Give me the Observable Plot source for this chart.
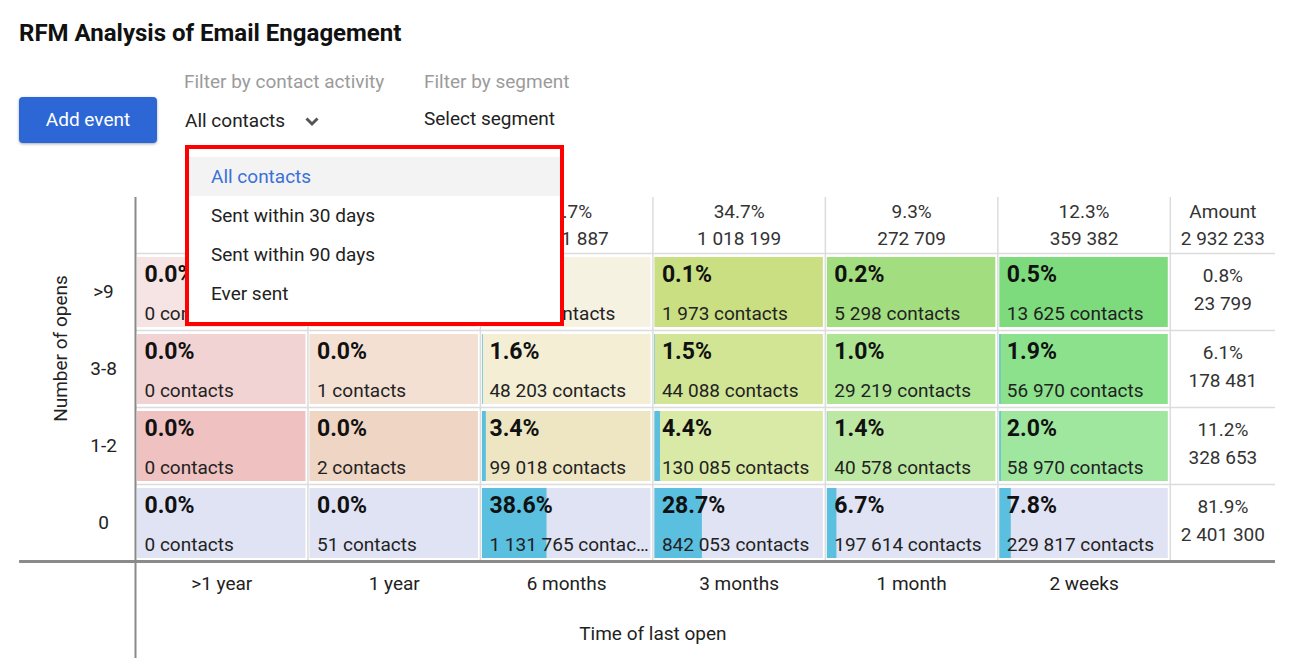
<!DOCTYPE html>
<html>
<head>
<meta charset="utf-8">
<script src="https://cdn.jsdelivr.net/npm/d3@7"></script>
<script src="https://cdn.jsdelivr.net/npm/@observablehq/plot@0.6"></script>
<style>
  body { margin: 0; background: #fff; font-family: Roboto, "Noto Sans", sans-serif; }
  #wrap { position: relative; width: 1310px; height: 664px; overflow: hidden; background: #fff; }
  .abs { position: absolute; white-space: nowrap; }
  #title { left: 19px; top: 19px; font-size: 24px; line-height: 28px; font-weight: bold; color: #111; }
  #btn { left: 19px; top: 97px; width: 138px; height: 46px; border-radius: 4px; background: #2d67d6;
         color: #fff; font-size: 19px; line-height: 46px; text-align: center; box-shadow: 0 1px 3px rgba(0,0,0,0.35); }
  .flabel { font-size: 19px; line-height: 22px; color: #9b9b9b; }
  .fval { font-size: 19px; line-height: 22px; color: #222; }
  #chart { position: absolute; left: 0; top: 190px; }
  #dropdown { left: 185px; top: 145px; width: 379px; height: 181px; box-sizing: border-box;
              border: 4px solid #ff0000; background: #fff; padding-top: 8px; z-index: 5; }
  .item { height: 39px; line-height: 39px; padding-left: 22px; font-size: 19px; color: #222; }
  .item.sel { background: #f3f3f3; color: #3a70d8; }
</style>
</head>
<body>
<div id="wrap">
  <div class="abs" id="title">RFM Analysis of Email Engagement</div>
  <div class="abs" id="btn">Add event</div>
  <div class="abs flabel" style="left:184px; top:71px;">Filter by contact activity</div>
  <div class="abs fval" style="left:185px; top:110px;">All contacts</div>
  <svg class="abs" style="left:305px; top:117px;" width="14" height="10"><polyline points="1.5,1.5 7,7 12.5,1.5" fill="none" stroke="#555" stroke-width="3"/></svg>
  <div class="abs flabel" style="left:424px; top:71px;">Filter by segment</div>
  <div class="abs fval" style="left:424px; top:108px;">Select segment</div>
  <div id="chart"></div>
  <div class="abs" id="dropdown">
    <div class="item sel">All contacts</div>
    <div class="item">Sent within 30 days</div>
    <div class="item">Sent within 90 days</div>
    <div class="item">Ever sent</div>
  </div>
</div>
<script>
// ---- data ----
const columns = [">1 year", "1 year", "6 months", "3 months", "1 month", "2 weeks"];
const rows = [">9", "3-8", "1-2", "0"];

const columnPercent = [0.0, 0.0, 43.7, 34.7, 9.3, 12.3];
const columnTotal = [0, 56, 1281887, 1018199, 272709, 359382];

const rowPercent = [0.8, 6.1, 11.2, 81.9];
const rowTotal = [23799, 178481, 328653, 2401300];
const grandTotal = 2932233;

const countsOver9 = [0, 2, 2901, 1973, 5298, 13625];
const counts3to8 = [0, 1, 48203, 44088, 29219, 56970];
const counts1to2 = [0, 2, 99018, 130085, 40578, 58970];
const counts0 = [0, 51, 1131765, 842053, 197614, 229817];

const pctOver9 = [0.0, 0.0, 0.1, 0.1, 0.2, 0.5];
const pct3to8 = [0.0, 0.0, 1.6, 1.5, 1.0, 1.9];
const pct1to2 = [0.0, 0.0, 3.4, 4.4, 1.4, 2.0];
const pct0 = [0.0, 0.0, 38.6, 28.7, 6.7, 7.8];

// ---- styles ----
const cellColors = [
  ["#f6e3e3", "#f6eae0", "#f6f2e2", "#c9df82", "#a2dd7f", "#7ddb7d"],
  ["#f2d3d3", "#f3e0d3", "#f3eed4", "#d2e595", "#aee593", "#8ce28c"],
  ["#efc1c1", "#efd5c4", "#eee6c3", "#d9e9a6", "#bde8a3", "#9fe79f"],
  ["#e0e3f4", "#e0e3f4", "#e0e3f4", "#e0e3f4", "#e0e3f4", "#e0e3f4"]
];
const barColor = "#5bbfe0";
const amountSpan = 0.61;   // width of the Amount column, in column units
const headerSpan = 0.727;  // height of the header row, in row units

const countsByRow = [countsOver9, counts3to8, counts1to2, counts0];
const pctByRow = [pctOver9, pct3to8, pct1to2, pct0];

const fmt = n => d3.format(",")(n).replace(/,/g, " ");

const cells = [];
rows.forEach((r, ri) => columns.forEach((c, ci) => {
  cells.push({row: ri, col: ci, count: countsByRow[ri][ci], pct: pctByRow[ri][ci], color: cellColors[ri][ci]});
}));
const header = columns.map((c, i) => ({col: i, pct: columnPercent[i], total: columnTotal[i]}));
const amounts = rows.map((r, i) => ({row: i, pct: rowPercent[i], total: rowTotal[i]}));

const chart = Plot.plot({
  width: 1310,
  height: 474,
  marginLeft: 135,
  marginRight: 35,
  marginTop: 7,
  marginBottom: 103,
  x: {type: "linear", domain: [0, 6 + amountSpan]},
  y: {type: "linear", domain: [4, -headerSpan]},
  color: {type: "identity"},
  style: {fontFamily: "Roboto, sans-serif", fontSize: "19px", color: "#222", background: "transparent", overflow: "visible"},
  marks: [
    Plot.rect(cells, {x1: "col", x2: d => d.col + 1, y1: "row", y2: d => d.row + 1, fill: "color",
      insetLeft: 2, insetRight: 2, insetTop: 4, insetBottom: 3}),
    Plot.rect(cells.filter(d => d.pct > 0), {x1: "col", x2: d => d.col + Math.max(d.pct / 100, 0.006),
      y1: "row", y2: d => d.row + 1, fill: barColor, insetLeft: 2, insetTop: 4, insetBottom: 3}),
    Plot.ruleX([1, 2, 3, 4, 5, 6], {x: d => d, y1: -headerSpan, y2: 4, stroke: "#dcdcdc", strokeWidth: 1.5}),
    Plot.ruleY([0, 1, 2, 3], {y: d => d, x1: 0, x2: 6 + amountSpan, stroke: "#dcdcdc", strokeWidth: 1.5}),
    Plot.ruleY([4], {y: d => d, x1: -0.672, x2: 6 + amountSpan, stroke: "#8a8a8a", strokeWidth: 3}),
    Plot.ruleX([0], {x: d => d, y1: -headerSpan, y2: 5.26, stroke: "#8a8a8a", strokeWidth: 2}),
    // header row
    Plot.text(header, {x: d => d.col + 0.5, y: () => 0, dy: -42, text: d => `${d.pct.toFixed(1)}%`, fill: "#333", fontSize: 19}),
    Plot.text(header, {x: d => d.col + 0.5, y: () => 0, dy: -15, text: d => fmt(d.total), fill: "#333", fontSize: 19}),
    Plot.text(["Amount"], {x: () => 6 + amountSpan / 2, y: () => 0, dy: -42, text: d => d, fill: "#333", fontSize: 19}),
    Plot.text([grandTotal], {x: () => 6 + amountSpan / 2, y: () => 0, dy: -15, text: d => fmt(d), fill: "#333", fontSize: 19}),
    // amount column
    Plot.text(amounts, {x: () => 6 + amountSpan / 2, y: d => d.row + 0.5, dy: -16, text: d => `${d.pct.toFixed(1)}%`, fill: "#333", fontSize: 19}),
    Plot.text(amounts, {x: () => 6 + amountSpan / 2, y: d => d.row + 0.5, dy: 12, text: d => fmt(d.total), fill: "#333", fontSize: 19}),
    // cell labels
    Plot.text(cells, {x: "col", y: "row", dx: 9, dy: 21, text: d => `${d.pct.toFixed(1)}%`, textAnchor: "start",
      fontWeight: "bold", fontSize: 23, fill: "#111"}),
    Plot.text(cells, {x: "col", y: "row", dx: 9, dy: 60, text: d => `${fmt(d.count)} contacts`, textAnchor: "start",
      fontSize: 19, fill: "#222", lineWidth: 8.95, textOverflow: "ellipsis"}),
    // axes
    Plot.axisX({ticks: [0.5, 1.5, 2.5, 3.5, 4.5, 5.5], tickFormat: v => columns[Math.round(v - 0.5)],
      tickSize: 0, tickPadding: 15, fontSize: 19, label: null}),
    Plot.axisY({ticks: [0.5, 1.5, 2.5, 3.5], tickFormat: v => rows[Math.round(v - 0.5)],
      tickSize: 0, tickPadding: 32, textAnchor: "middle", fontSize: 19, label: null}),
    Plot.text(["Time of last open"], {x: () => 3, y: () => 4, dy: 72, text: d => d, fontSize: 19, fill: "#222"}),
    Plot.text(["Number of opens"], {y: () => 1.234, frameAnchor: "left", textAnchor: "middle", dx: -75, rotate: -90,
      text: d => d, fontSize: 19, fill: "#222"})
  ]
});
document.getElementById("chart").appendChild(chart);
</script>
</body>
</html>
